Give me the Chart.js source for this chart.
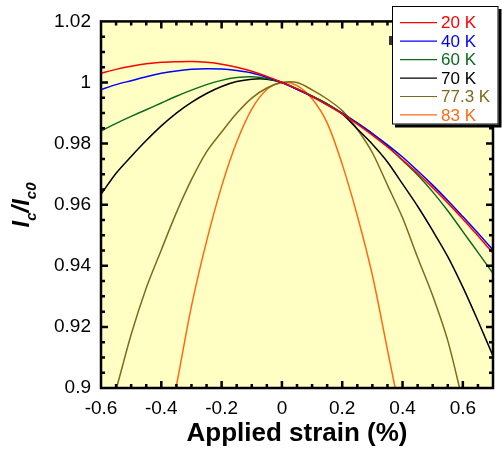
<!DOCTYPE html>
<html>
<head>
<meta charset="utf-8">
<style>
  html, body { margin: 0; padding: 0; background: #fff; }
  #wrap { width: 502px; height: 450px; }
</style>
</head>
<body>
<div id="wrap"><canvas id="chart" width="502" height="450"></canvas></div>
<script src="https://cdn.jsdelivr.net/npm/chart.js@4/dist/chart.umd.min.js"></script>
<script>
const FONT = "'Liberation Sans', Arial, sans-serif";

// applied strain (%), x values shared by every curve
const strain = [-0.6, -0.55, -0.5, -0.45, -0.4, -0.35, -0.3, -0.25, -0.2, -0.15, -0.1, -0.05, 0,
  0.05, 0.1, 0.15, 0.2, 0.25, 0.3, 0.35, 0.4, 0.45, 0.5, 0.55, 0.6, 0.65, 0.7];

// Ic/Ic0 (null = outside the plotted range)
const ic20 = [1.0030, 1.0043, 1.0053, 1.0061, 1.0066, 1.0068, 1.0069, 1.0066, 1.0060, 1.0050, 1.0037, 1.0020, 1.0000,
  0.9979, 0.9954, 0.9927, 0.9897, 0.9864, 0.9828, 0.9789, 0.9747, 0.9703, 0.9656, 0.9606, 0.9553, 0.9498, 0.9442];
const ic40 = [0.9977, 0.9993, 1.0006, 1.0019, 1.0030, 1.0038, 1.0043, 1.0045, 1.0044, 1.0039, 1.0031, 1.0017, 1.0000,
  0.9978, 0.9954, 0.9927, 0.9899, 0.9867, 0.9833, 0.9796, 0.9756, 0.9711, 0.9664, 0.9614, 0.9561, 0.9507, 0.9452];
const ic60 = [0.9841, 0.9866, 0.9889, 0.9911, 0.9933, 0.9955, 0.9975, 0.9993, 1.0007, 1.0016, 1.0019, 1.0013, 1.0000,
  0.9980, 0.9956, 0.9929, 0.9900, 0.9868, 0.9833, 0.9792, 0.9745, 0.9697, 0.9642, 0.9580, 0.9512, 0.9444, 0.9375];
const ic70 = [0.9634, 0.9703, 0.9758, 0.9810, 0.9858, 0.9900, 0.9935, 0.9964, 0.9987, 1.0003, 1.0011, 1.0011, 1.0000,
  0.9978, 0.9955, 0.9930, 0.9897, 0.9848, 0.9798, 0.9740, 0.9668, 0.9595, 0.9515, 0.9430, 0.9330, 0.9220, 0.9105];
const ic773 = [0.8830, 0.8995, 0.9175, 0.9327, 0.9452, 0.9574, 0.9682, 0.9773, 0.9838, 0.9899, 0.9949, 0.9982, 1.0000,
  1.0000, 0.9976, 0.9946, 0.9908, 0.9847, 0.9770, 0.9664, 0.9557, 0.9427, 0.9302, 0.9155, 0.8955, null, null];
const ic83 = [null, null, null, null, 0.8770, 0.9008, 0.9268, 0.9480, 0.9660, 0.9805, 0.9913, 0.9977, 1.0000,
  0.9990, 0.9947, 0.9868, 0.9732, 0.9564, 0.9369, 0.9125, 0.8880, null, null, null, null, null, null];

const labels = ['20 K', '40 K', '60 K', '70 K', '77.3 K', '83 K'];
const series = [ic20, ic40, ic60, ic70, ic773, ic83];
const colors = ['#ff0000', '#0000ff', '#0b6b1f', '#000000', '#7d6a1c', '#ff6a13'];

const xTickLabels = ['-0.6', '-0.4', '-0.2', '0', '0.2', '0.4', '0.6'];
const yTickLabels = ['0.9', '0.92', '0.94', '0.96', '0.98', '1', '1.02'];

const isMajorX = v => xTickLabels.includes(String(Math.round(v * 100) / 100));
const isMajorY = v => yTickLabels.includes(String(Math.round(v * 1000) / 1000));

const frame = {
  id: 'frame',
  beforeDatasetsDraw(chart) {
    const { ctx, chartArea: a } = chart;
    ctx.save();
    ctx.fillStyle = '#ffffc4';
    ctx.fillRect(a.left, a.top, a.right - a.left, a.bottom - a.top);
    ctx.restore();
  },
  afterDatasetsDraw(chart) {
    const { ctx, chartArea: a, scales } = chart;
    ctx.save();
    ctx.strokeStyle = '#000';
    ctx.lineWidth = 2.5;
    ctx.beginPath();
    scales.x.ticks.forEach(t => {
      const p = scales.x.getPixelForValue(t.value);
      if (p < a.left + 2 || p > a.right - 2) return;
      const len = isMajorX(t.value) ? 7 : 4;
      ctx.moveTo(p, a.bottom); ctx.lineTo(p, a.bottom - len);
      ctx.moveTo(p, a.top); ctx.lineTo(p, a.top + len);
    });
    scales.y.ticks.forEach(t => {
      const p = scales.y.getPixelForValue(t.value);
      if (p < a.top + 2 || p > a.bottom - 2) return;
      const len = isMajorY(t.value) ? 7 : 4;
      ctx.moveTo(a.left, p); ctx.lineTo(a.left + len, p);
      ctx.moveTo(a.right, p); ctx.lineTo(a.right - len, p);
    });
    ctx.stroke();
    ctx.strokeRect(a.left, a.top, a.right - a.left, a.bottom - a.top);

    // y axis title: Ic/Ic0, rotated
    ctx.translate(29, 205);
    ctx.rotate(-Math.PI / 2);
    const big = 'italic bold 24px ' + FONT;
    const small = 'italic bold 15px ' + FONT;
    const parts = [['I', big, 0], ['c', small, 7], ['/', big, 0], ['I', big, 0], ['c0', small, 7]];
    let total = 0;
    parts.forEach(([s, f]) => { ctx.font = f; total += ctx.measureText(s).width; });
    let x = -total / 2;
    ctx.fillStyle = '#000';
    ctx.textBaseline = 'alphabetic';
    parts.forEach(([s, f, dy]) => {
      ctx.font = f;
      ctx.fillText(s, x, dy);
      x += ctx.measureText(s).width;
    });
    ctx.restore();
  },
  afterDraw(chart) {
    const { ctx } = chart;
    const bx = 392, by = 6, bw = 106.5, bh = 118.5;
    ctx.save();
    ctx.fillStyle = '#333';
    ctx.fillRect(389, 36, 3, 9);
    ctx.fillStyle = '#000';
    ctx.fillRect(bx + 3, by + 3, bw, bh);
    ctx.fillStyle = '#fff';
    ctx.fillRect(bx, by, bw, bh);
    ctx.strokeStyle = '#000';
    ctx.lineWidth = 1;
    ctx.strokeRect(bx + 0.5, by + 0.5, bw - 1, bh - 1);
    ctx.font = '17px ' + FONT;
    ctx.textBaseline = 'middle';
    chart.data.datasets.forEach((ds, i) => {
      const y = 22.7 + i * 18.45;
      ctx.strokeStyle = ds.borderColor;
      ctx.lineWidth = 1.2;
      ctx.beginPath();
      ctx.moveTo(400, y); ctx.lineTo(437, y);
      ctx.stroke();
      ctx.fillStyle = ds.borderColor;
      ctx.fillText(ds.label, 441, y + 1);
    });
    ctx.restore();
  }
};

new Chart(document.getElementById('chart'), {
  type: 'line',
  data: {
    datasets: series.map((vals, i) => ({
      label: labels[i],
      data: strain.map((s, j) => ({ x: s, y: vals[j] })),
      borderColor: colors[i],
      borderWidth: 1.5,
      pointRadius: 0,
      tension: 0.3,
      spanGaps: false,
    })),
  },
  options: {
    responsive: false,
    animation: false,
    devicePixelRatio: 1,
    layout: { padding: { top: 16, right: 1, left: 0, bottom: 0 } },
    plugins: { legend: { display: false }, tooltip: { enabled: false } },
    scales: {
      x: {
        type: 'linear',
        min: -0.6,
        max: 0.7,
        grid: { display: false, drawTicks: false },
        border: { display: false },
        ticks: {
          stepSize: 0.05,
          autoSkip: false,
          maxRotation: 0,
          padding: 9,
          color: '#000',
          font: { family: FONT, size: 19 },
          callback: v => isMajorX(v) ? String(Math.round(v * 10) / 10) : '',
        },
        title: {
          display: true,
          text: 'Applied strain (%)',
          color: '#000',
          font: { family: FONT, size: 26, weight: 'bold' },
          padding: { top: 0, bottom: 1 },
        },
        afterFit: s => { s.height = 62; },
      },
      y: {
        min: 0.9,
        max: 1.02,
        grid: { display: false, drawTicks: false },
        border: { display: false },
        ticks: {
          stepSize: 0.005,
          autoSkip: false,
          padding: 10,
          color: '#000',
          font: { family: FONT, size: 19 },
          callback: v => isMajorY(v) ? String(Math.round(v * 100) / 100) : '',
        },
        afterFit: s => { s.width = 101; },
      },
    },
  },
  plugins: [frame],
});
</script>
</body>
</html>
